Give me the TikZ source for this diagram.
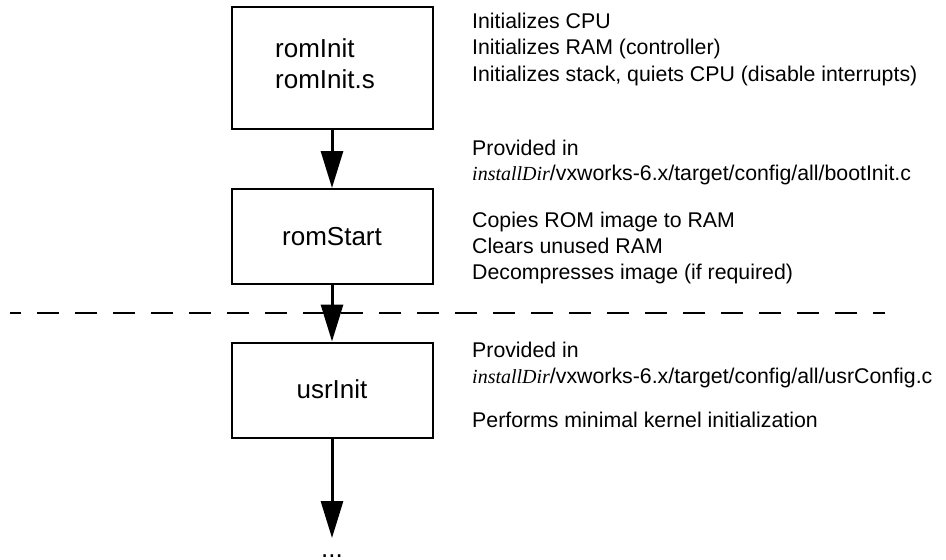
\documentclass[tikz,border=0pt]{standalone}
\usepackage{fontspec}
\setmainfont{Liberation Sans}
\newfontfamily\dirfont{Liberation Serif}
\usetikzlibrary{arrows.meta}

\tikzset{
  stage/.style={draw=black, line width=2pt, minimum width=201pt, inner sep=0pt, fill=white},
  boxlabel/.style={inner sep=0pt, font=\fontsize{26}{31}\selectfont},
  note/.style={inner sep=0pt, anchor=base west, font=\fontsize{21.3}{26}\selectfont},
  flow/.style={line width=3pt, -{Triangle[length=37pt, width=22pt]}},
  divider/.style={line width=2.5pt, dash pattern=on 22pt off 16pt, dash phase=11pt}
}
\newcommand{\instdir}{{\dirfont\itshape\fontsize{20}{26}\selectfont installDir}/}

\begin{document}
\begin{tikzpicture}[x=1pt, y=-1pt]
  \useasboundingbox (0,0) rectangle (946,560);

  % boot / image boundary
  \coordinate (dl) at (10,313);
  \coordinate (dr) at (885,313);
  \draw[divider] (dl) -- (dr);

  % boot stages
  \node[stage, minimum height=122pt] (rominit) at (332,67.5) {};
  \node[stage, minimum height=95pt]  (romstart) at (332,236.5) {};
  \node[stage, minimum height=95pt]  (usrinit) at (332,390) {};

  \node[boxlabel, anchor=base west] (rominitA) at (275,57) {romInit};
  \node[boxlabel, anchor=base west] (rominitB) at (275,88) {romInit.s};
  \node[boxlabel, anchor=base] (romstartL) at (332,245) {romStart};
  \node[boxlabel, anchor=base] (usrinitL) at (332,398) {usrInit};

  \coordinate (next) at (332,538);
  \node[boxlabel, anchor=base] (more) at (332,557) {...};

  \draw[flow] (rominit.south) -- (romstart.north);
  \draw[flow] (romstart.south) -- (usrinit.north);
  \draw[flow] (usrinit.south) -- (next);

  % descriptions
  \node[note] (n1) at (472,28)   {Initializes CPU};
  \node[note] (n2) at (472,54.5) {Initializes RAM (controller)};
  \node[note] (n3) at (472,81)   {Initializes stack, quiets CPU (disable interrupts)};

  \node[note] (n4) at (472,155) {Provided in};
  \node[note] (n5) at (472,180) {\instdir vxworks-6.x/target/config/all/bootInit.c};
  \node[note] (n6) at (472,227) {Copies ROM image to RAM};
  \node[note] (n7) at (472,253) {Clears unused RAM};
  \node[note] (n8) at (472,279) {Decompresses image (if required)};

  \node[note] (n9)  at (472,357) {Provided in};
  \node[note] (n10) at (472,383) {\instdir vxworks-6.x/target/config/all/usrConfig.c};
  \node[note] (n11) at (472,427) {Performs minimal kernel initialization};
\end{tikzpicture}
\end{document}
